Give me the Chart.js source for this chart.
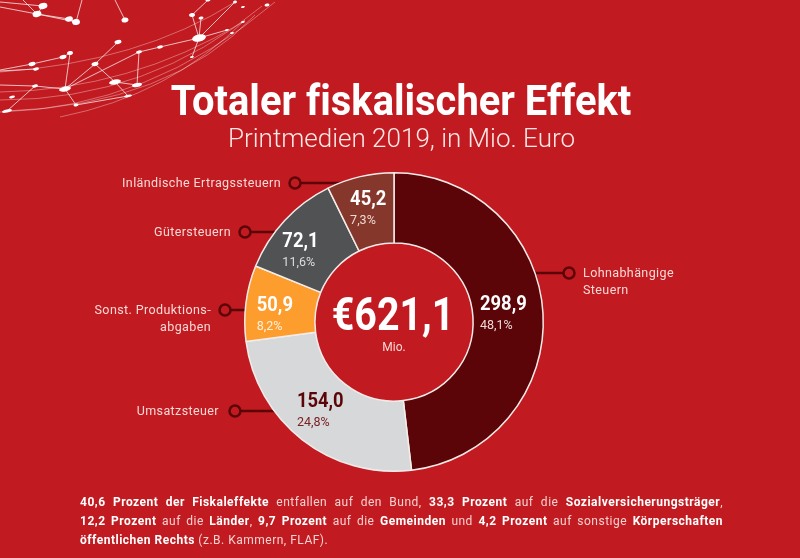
<!DOCTYPE html>
<html lang="de">
<head>
<meta charset="utf-8">
<title>Totaler fiskalischer Effekt</title>
<script src="https://cdn.jsdelivr.net/npm/chart.js@4"></script>
<style>
  html, body { margin: 0; padding: 0; background: #c11a20; }
  #page { position: relative; width: 800px; height: 558px; overflow: hidden; background: #c11a20; font-family: Roboto, sans-serif; color: #fff; font-variant-ligatures: none; }
  #mesh { position: absolute; left: 0; top: 0; }
  #chart { position: absolute; left: 0; top: 0; }
  h1 { position: absolute; left: 0; top: 74px; width: 802px; margin: 0; text-align: center; font-size: 42px; line-height: 54px; font-weight: 700; transform: scaleX(0.95); }
  h2 { position: absolute; left: 0; top: 120px; width: 803px; margin: 0; text-align: center; font-size: 26px; line-height: 36px; font-weight: 300; color: #fbe9e7; }
  #note { position: absolute; left: 80px; top: 492.5px; width: 643px; font-size: 12px; line-height: 19.3px; letter-spacing: 0.5px; color: #f6d3d1; }
  #note div { text-align: justify; text-align-last: justify; white-space: nowrap; }
  #note div:last-child { text-align-last: left; }
  #note b { color: #fff; font-weight: 700; }
</style>
</head>
<body>
<div id="page">
  <svg id="mesh" width="300" height="120" fill="#fff" stroke="#fff"></svg>
  <canvas id="chart" width="800" height="558"></canvas>
  <h1>Totaler fiskalischer Effekt</h1>
  <h2>Printmedien 2019, in Mio. Euro</h2>
  <div id="note">
    <div><b>40,6 Prozent der Fiskaleffekte</b> entfallen auf den Bund, <b>33,3 Prozent</b> auf die <b>Sozialversicherungsträger</b>,</div>
    <div><b>12,2 Prozent</b> auf die <b>Länder</b>, <b>9,7 Prozent</b> auf die <b>Gemeinden</b> und <b>4,2 Prozent</b> auf sonstige <b>Körperschaften</b></div>
    <div><b>öffentlichen Rechts</b> (z.B. Kammern, FLAF).</div>
  </div>
</div>
<script>
// ---- data ----
const categories = ["Lohnabhängige Steuern", "Umsatzsteuer", "Sonst. Produktionsabgaben", "Gütersteuern", "Inländische Ertragssteuern"];
const values = [298.9, 154.0, 50.9, 72.1, 45.2];
const percents = [48.1, 24.8, 8.2, 11.6, 7.3];
const total = 621.1;
const colors = ["#5c0508", "#d7d8d9", "#fd9d2e", "#505254", "#86372b"];

// ---- label placement ----
const bg = "#c11a20";
const dark = "#5c0508";
const labelText = "#f9d9d6";
// offset of the value label from each slice's centre, and its ink colours
const sliceLabels = [
  { dx: -28, dy: -10, value: "#fff", pct: "#f0d9d9" },
  { dx: -27, dy: -10, value: dark, pct: "#7a2125" },
  { dx: -24, dy: -2, value: "#fff", pct: "#fff0dd" },
  { dx: -28, dy: -2, value: "#fff", pct: "#dcdcdc" },
  { dx: -18, dy: -11, value: "#fff", pct: "#efd9d4" },
];
const callouts = [
  { x: 569, y: 273, toX: 530, lines: ["Lohnabhängige", "Steuern"], textX: 583, align: "left" },
  { x: 235, y: 411, toX: 280, lines: ["Umsatzsteuer"], textX: 219, align: "right" },
  { x: 225, y: 310, toX: 255, lines: ["Sonst. Produktions-", "abgaben"], textX: 211, align: "right" },
  { x: 245, y: 232, toX: 280, lines: ["Gütersteuern"], textX: 231, align: "right" },
  { x: 295, y: 183, toX: 345, lines: ["Inländische Ertragssteuern"], textX: 281, align: "right" },
];

function comma(v, digits) {
  return v.toFixed(digits).replace(".", ",");
}

// narrow the glyphs a bit, the original face is a condensed DIN
function squeezedText(ctx, text, x, y, sx) {
  ctx.save();
  ctx.translate(x, y);
  ctx.scale(sx, 1);
  ctx.fillText(text, 0, 0);
  ctx.restore();
}

// ---- leader lines sit behind the ring ----
const leaderPlugin = {
  id: "leaders",
  beforeDatasetsDraw(chart) {
    const ctx = chart.ctx;
    ctx.save();
    ctx.strokeStyle = dark;
    callouts.forEach(c => {
      ctx.lineWidth = 2.5;
      ctx.beginPath();
      ctx.moveTo(c.x, c.y);
      ctx.lineTo(c.toX, c.y);
      ctx.stroke();
      ctx.beginPath();
      ctx.arc(c.x, c.y, 5.5, 0, Math.PI * 2);
      ctx.fillStyle = bg;
      ctx.fill();
      ctx.stroke();
      ctx.fillStyle = labelText;
      ctx.font = "400 12.5px Roboto";
      ctx.letterSpacing = "0.4px";
      ctx.textAlign = c.align;
      ctx.textBaseline = "middle";
      c.lines.forEach((line, i) => ctx.fillText(line, c.textX, c.y + 1 + i * 17));
    });
    ctx.restore();
  },
  afterDatasetsDraw(chart) {
    const ctx = chart.ctx;
    const arcs = chart.getDatasetMeta(0).data;
    ctx.save();
    ctx.textBaseline = "middle";
    ctx.textAlign = "left";
    arcs.forEach((arc, i) => {
      const p = arc.getCenterPoint();
      const s = sliceLabels[i];
      ctx.fillStyle = s.value;
      ctx.font = "700 20px Roboto";
      squeezedText(ctx, comma(values[i], 1), p.x + s.dx, p.y + s.dy, 0.92);
      ctx.fillStyle = s.pct;
      ctx.font = "400 12.5px Roboto";
      ctx.fillText(comma(percents[i], 1) + "%", p.x + s.dx, p.y + s.dy + 21);
    });
    // centre total
    const c = arcs[0];
    ctx.textAlign = "center";
    ctx.fillStyle = "#fff";
    ctx.font = "700 46px Roboto";
    squeezedText(ctx, "€" + comma(total, 1), c.x - 1, c.y - 4, 0.855);
    ctx.fillStyle = labelText;
    ctx.font = "400 12px Roboto";
    ctx.fillText("Mio.", c.x, c.y + 26);
    ctx.restore();
  },
};

new Chart(document.getElementById("chart"), {
  type: "doughnut",
  data: {
    labels: categories,
    datasets: [{
      data: values,
      backgroundColor: colors,
      borderColor: "#f4ecea",
      borderWidth: 1.5,
      borderAlign: "center",
    }],
  },
  options: {
    responsive: false,
    animation: false,
    cutout: "53%",
    layout: { padding: { left: 244, right: 256, top: 172, bottom: 86 } },
    plugins: { legend: { display: false }, tooltip: { enabled: false } },
  },
  plugins: [leaderPlugin],
});

// ---- decorative network, top left ----
const meshNodes = [
  [43, 6, 4.5, 3], [37, 14, 4.5, 3], [69, 19, 4, 2.5], [76, 22, 4, 3], [125, 20, 3.5, 2.5],
  [199, 38, 7, 3.5], [192, 15, 3, 2], [201, 18, 2.5, 1.5], [208, 0, 2.5, 1.5], [235, 2, 2, 1.5],
  [243, 7, 2, 1], [267, 5, 2.5, 1.5], [243, 22, 2, 1], [227, 30, 2, 1], [232, 33, 2, 1],
  [160, 47, 3, 1.5], [139, 52, 3, 1.5], [118, 42, 3.5, 2], [95, 64, 3.5, 2], [70, 53, 3, 2],
  [63, 57, 3.5, 2], [32, 64, 3.5, 2], [36, 69, 3, 1.5], [65, 89, 6, 2.5], [115, 82, 6, 2.5],
  [137, 85, 5, 2], [35, 86, 3, 1.5], [12, 97, 3, 1.2], [7, 111, 5, 1.5], [76, 105, 2.5, 1.5],
  [128, 96, 4, 1.2], [192, 57, 2, 1],
];
const meshLinks = [
  [0, 1], [1, 2], [1, 3], [2, 3], [5, 6], [5, 7], [6, 8], [5, 15], [15, 16],
  [17, 18], [18, 23], [18, 24], [16, 25], [19, 23], [23, 29], [24, 30], [5, 31],
  [23, 26], [20, 21], [20, 19], [24, 25], [16, 23], [29, 30],
];
const meshLoose = [
  [[82, 0], [76, 22]], [[115, 0], [125, 20]], [[23, 0], [37, 14]], [[0, 7], [37, 14]], [[0, 2], [43, 6]],
  [[0, 70], [32, 64]], [[0, 71], [36, 69]], [[0, 85], [35, 86]], [[35, 86], [7, 111]],
  [[199, 38], [227, 30]], [[199, 38], [235, 2]],
];
const meshCurves = [
  "M0 112 Q150 108 275 2", "M0 100 Q150 100 262 6", "M0 72 Q140 62 235 2",
  "M7 111 Q170 105 255 15", "M0 92 Q130 90 243 22", "M60 117 Q170 95 245 20",
];
const svg = document.getElementById("mesh");
function addSvg(tag, attrs) {
  const el = document.createElementNS("http://www.w3.org/2000/svg", tag);
  Object.keys(attrs).forEach(k => el.setAttribute(k, attrs[k]));
  svg.appendChild(el);
}
meshCurves.forEach(d => addSvg("path", { d, fill: "none", "stroke-width": 0.7, opacity: 0.5 }));
meshLinks.forEach(([a, b]) => addSvg("line", {
  x1: meshNodes[a][0], y1: meshNodes[a][1], x2: meshNodes[b][0], y2: meshNodes[b][1], "stroke-width": 0.9, opacity: 0.8,
}));
meshLoose.forEach(([a, b]) => addSvg("line", { x1: a[0], y1: a[1], x2: b[0], y2: b[1], "stroke-width": 0.9, opacity: 0.8 }));
meshNodes.forEach(n => addSvg("ellipse", {
  cx: n[0], cy: n[1], rx: n[2], ry: n[3], stroke: "none", transform: `rotate(-12 ${n[0]} ${n[1]})`,
}));
</script>
</body>
</html>
